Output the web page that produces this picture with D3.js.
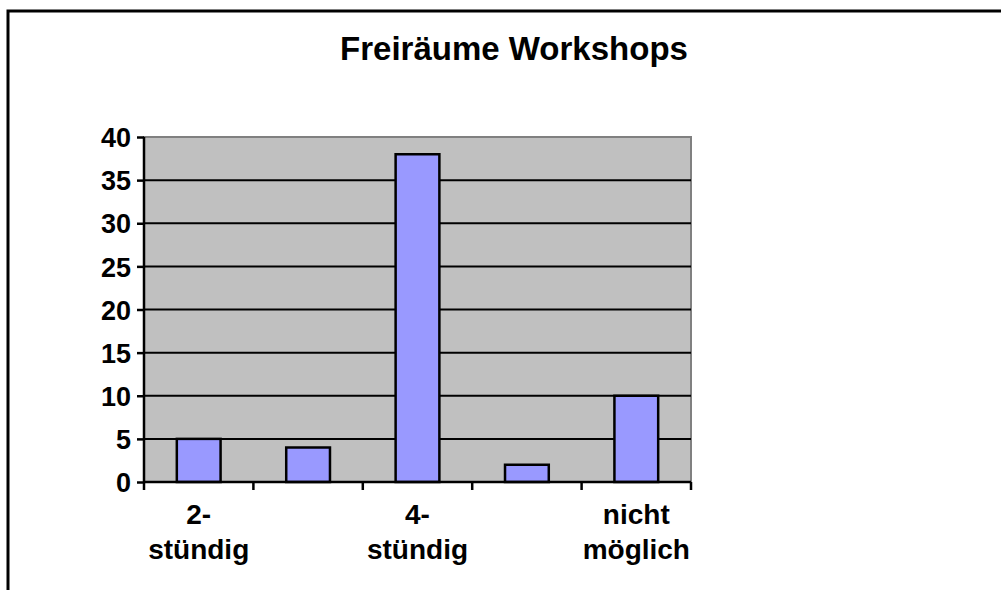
<!DOCTYPE html>
<html lang="de">
<head>
    <meta charset="UTF-8">
    <title>Freiräume Workshops</title>
    <script src="https://d3js.org/d3.v7.min.js"></script>
    <style>
        body { margin: 0; background: #fff; }
        text { font-family: "Liberation Sans", Arial, sans-serif; font-weight: bold; fill: #000; }
    </style>
</head>
<body>
    <script>
        // category labels (Excel only printed every other one; hidden ones left blank)
        const categories = ["2-|stündig", "", "4-|stündig", "", "nicht|möglich"]
        const values = [5, 4, 38, 2, 10]
        const yTicks = [0, 5, 10, 15, 20, 25, 30, 35, 40]

        const W = 1001, H = 590
        const plot = {left: 144, right: 691, top: 137, bottom: 482}

        const svg = d3.select("body").append("svg")
            .attr("width", W)
            .attr("height", H)

        // outer chart frame (runs off the right and bottom edge)
        svg.append("rect")
            .attr("x", 8).attr("y", 11)
            .attr("width", 1020).attr("height", 600)
            .attr("fill", "#fff")
            .attr("stroke", "#000")
            .attr("stroke-width", 3)

        svg.append("text")
            .attr("x", 514)
            .attr("y", 60)
            .attr("text-anchor", "middle")
            .style("font-size", "33px")
            .text("Freiräume Workshops")

        const x = d3.scaleBand()
            .domain(d3.range(categories.length))
            .range([plot.left, plot.right])
            .paddingInner(0)

        const y = d3.scaleLinear()
            .domain([0, 40])
            .range([plot.bottom, plot.top])

        // plot area
        svg.append("rect")
            .attr("x", plot.left).attr("y", plot.top)
            .attr("width", plot.right - plot.left)
            .attr("height", plot.bottom - plot.top)
            .attr("fill", "#c0c0c0")
            .attr("stroke", "#808080")
            .attr("stroke-width", 2)

        // gridlines
        svg.append("g")
            .selectAll("line")
            .data(yTicks.filter(t => t > 0 && t < 40))
            .enter().append("line")
            .attr("x1", plot.left).attr("x2", plot.right)
            .attr("y1", d => y(d)).attr("y2", d => y(d))
            .attr("stroke", "#000")
            .attr("stroke-width", 2)

        // bars: gap width 150% -> bar = band / 2.5
        const bw = x.bandwidth() / 2.5
        svg.append("g")
            .selectAll("rect")
            .data(values)
            .enter().append("rect")
            .attr("x", (d, i) => x(i) + (x.bandwidth() - bw) / 2)
            .attr("y", d => y(d))
            .attr("width", bw)
            .attr("height", d => y(0) - y(d))
            .attr("fill", "#9999ff")
            .attr("stroke", "#000")
            .attr("stroke-width", 2.5)

        // y axis
        const yAxis = svg.append("g")
            .attr("transform", "translate(" + plot.left + ",0)")
            .call(d3.axisLeft(y).tickValues(yTicks).tickSize(7).tickPadding(6))
        yAxis.selectAll("path, line").attr("stroke", "#000").attr("stroke-width", 2.5)
        yAxis.select(".domain").attr("d", "M0," + plot.top + "V" + plot.bottom)
        yAxis.selectAll("text")
            .style("font-size", "27px")
            .style("font-family", "'Liberation Sans', Arial, sans-serif")
            .style("font-weight", "bold")
            .attr("dy", "0.36em")

        // x axis: ticks on band boundaries
        const xAxis = svg.append("g")
        xAxis.append("line")
            .attr("x1", plot.left - 1).attr("x2", plot.right)
            .attr("y1", plot.bottom).attr("y2", plot.bottom)
            .attr("stroke", "#000").attr("stroke-width", 2.5)
        xAxis.selectAll(".tick")
            .data(d3.range(categories.length + 1))
            .enter().append("line")
            .attr("x1", i => plot.left + i * x.step())
            .attr("x2", i => plot.left + i * x.step())
            .attr("y1", plot.bottom).attr("y2", plot.bottom + 8)
            .attr("stroke", "#000").attr("stroke-width", 2.5)

        const lbl = xAxis.selectAll(".lbl")
            .data(categories)
            .enter().append("text")
            .attr("text-anchor", "middle")
            .style("font-size", "28px")
        lbl.each(function (d, i) {
            const parts = d ? d.split("|") : []
            d3.select(this).selectAll("tspan")
                .data(parts)
                .enter().append("tspan")
                .attr("x", x(i) + x.bandwidth() / 2)
                .attr("y", (p, j) => 524 + j * 35)
                .text(p => p)
        })
    </script>
</body>
</html>
